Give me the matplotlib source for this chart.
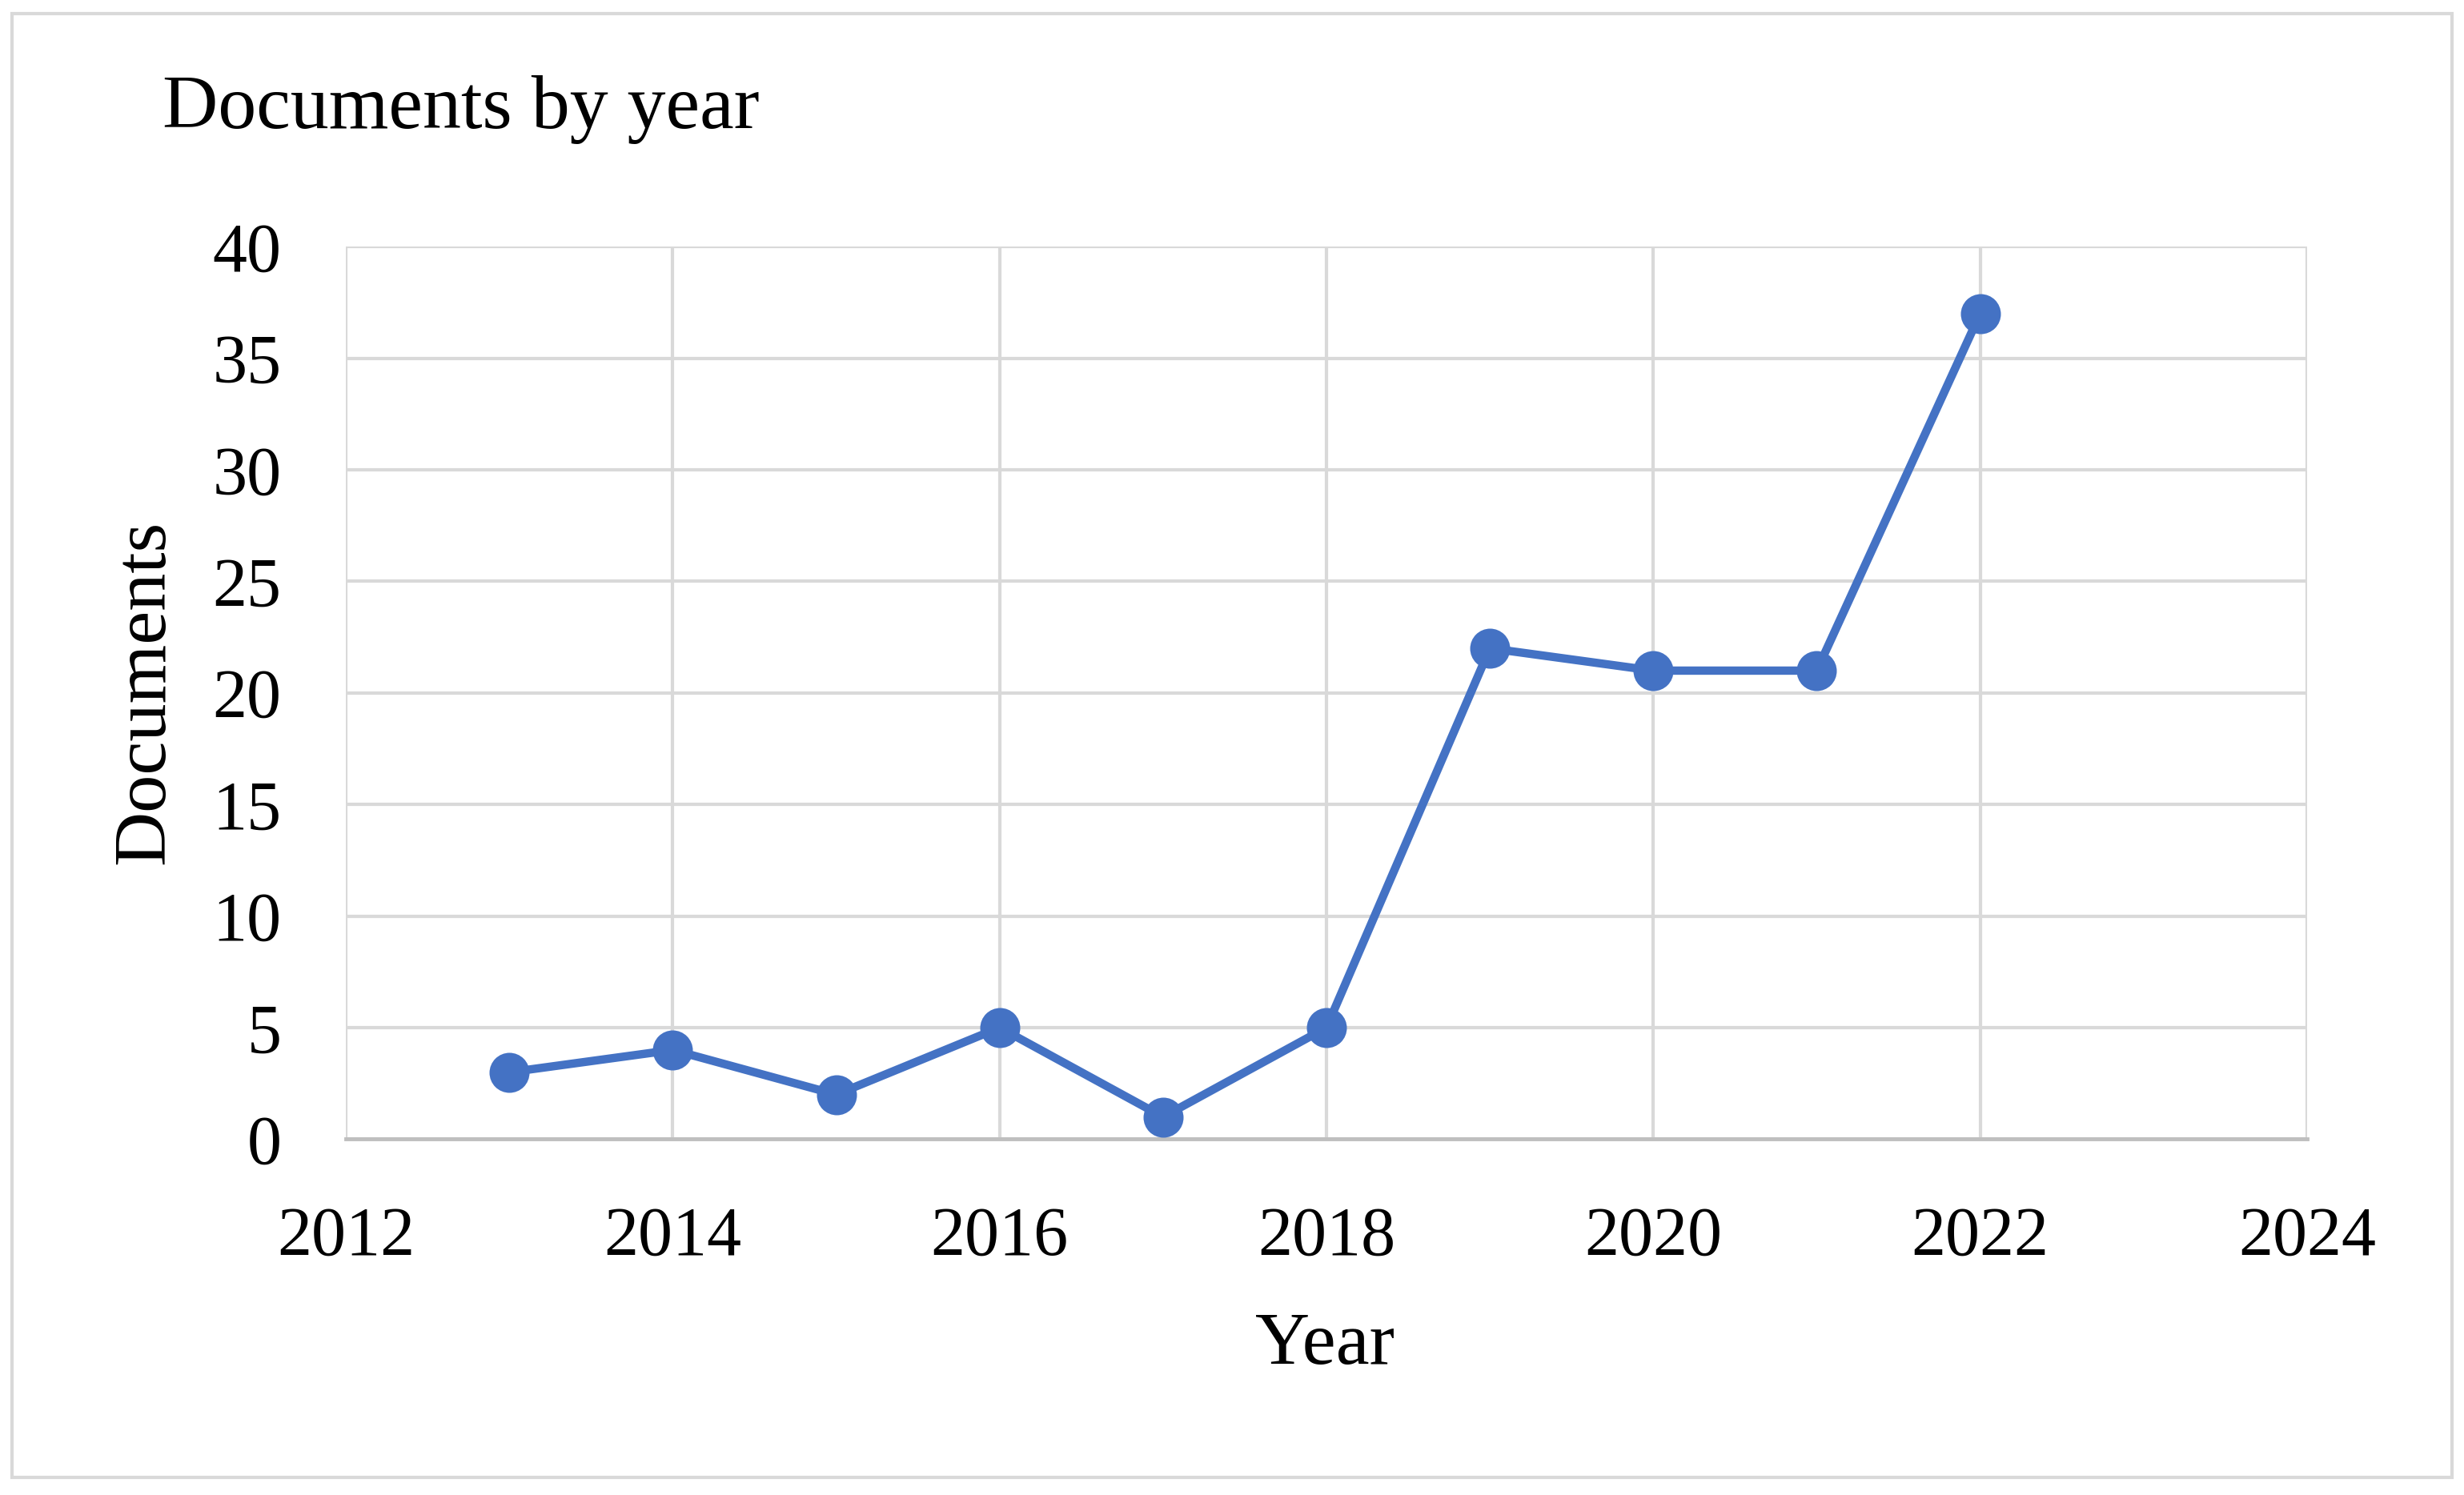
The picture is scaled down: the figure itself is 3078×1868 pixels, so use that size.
import matplotlib.pyplot as plt
from matplotlib.patches import Rectangle

# data
years = [2013, 2014, 2015, 2016, 2017, 2018, 2019, 2020, 2021, 2022]
documents = [3, 4, 2, 5, 1, 5, 22, 21, 21, 37]
x_ticks = [2012, 2014, 2016, 2018, 2020, 2022, 2024]
y_ticks = [0, 5, 10, 15, 20, 25, 30, 35, 40]

plt.rcParams['font.family'] = ['Liberation Serif', 'DejaVu Serif']

fig = plt.figure(figsize=(30.78, 18.68), dpi=100)
ax = fig.add_axes([0.1404, 0.238, 0.7959, 0.597])

ax.plot(years, documents, color='#4472C4', lw=7.5, marker='o',
        markersize=36, markeredgewidth=0, zorder=3)

ax.set_xlim(2012, 2024)
ax.set_ylim(0, 40)
ax.set_xticks(x_ticks)
ax.set_yticks(y_ticks)
ax.tick_params(axis='both', length=0, labelsize=62, colors='black')
ax.tick_params(axis='x', pad=60)
ax.tick_params(axis='y', pad=58)

ax.grid(axis='both', color='#d9d9d9', lw=3)
ax.set_axisbelow(True)
for side in ['top', 'right', 'left']:
    ax.spines[side].set_visible(False)
ax.spines['bottom'].set_color('#bfbfbf')
ax.spines['bottom'].set_linewidth(3.5)

fig.text(0.066, 0.927, 'Documents by year', fontsize=69, ha='left', va='center')
fig.text(0.5376, 0.10, 'Year', fontsize=68, ha='center', va='center')
fig.text(0.059, 0.537, 'Documents', fontsize=68, rotation=90,
         ha='center', va='center')

# outer chart border
fig.patches.append(Rectangle((0.005, 0.012), 0.99, 0.979, transform=fig.transFigure,
                             fill=False, edgecolor='#d9d9d9', lw=3))

fig.savefig('out.png', dpi=100)
